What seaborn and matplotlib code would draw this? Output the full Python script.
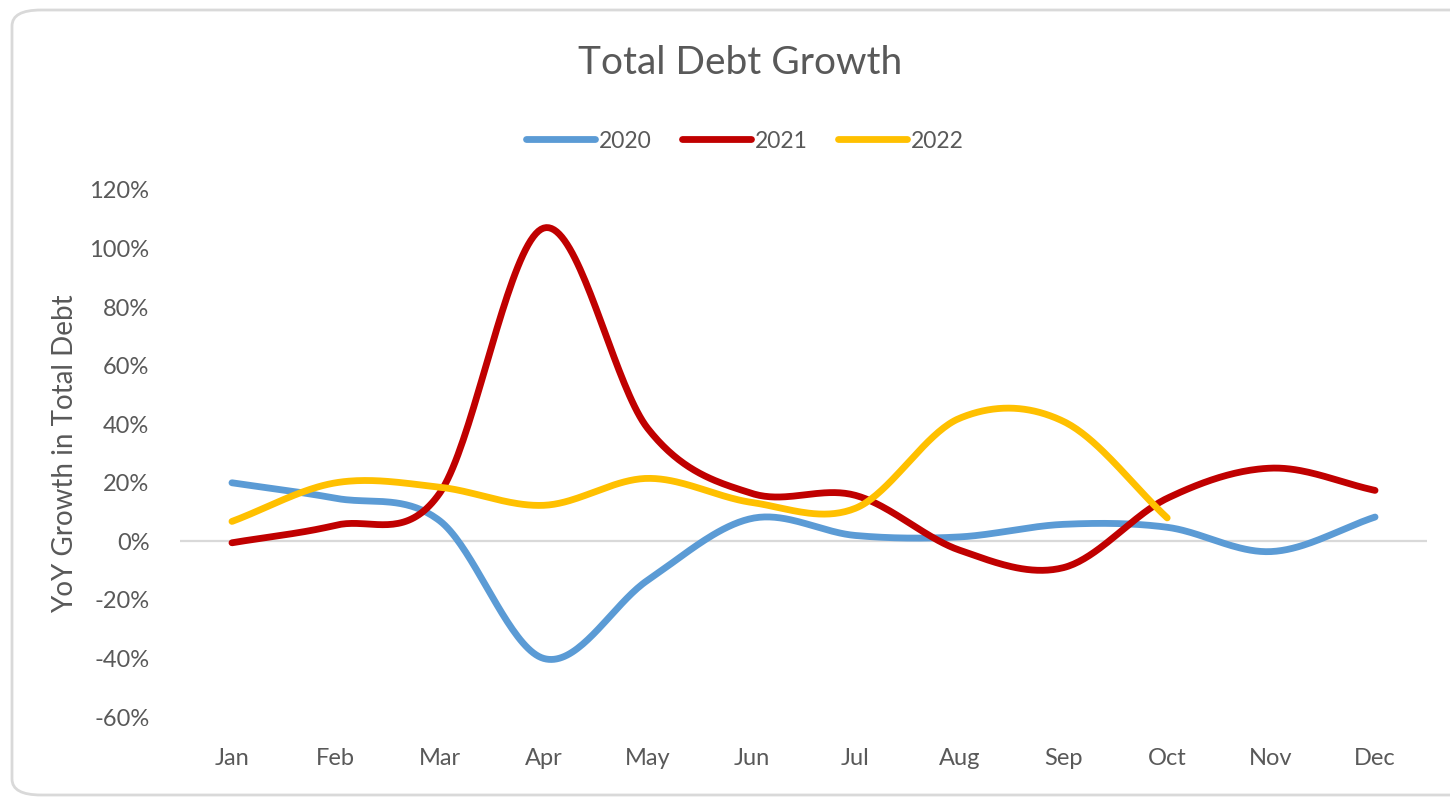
import numpy as np
import pandas as pd
import matplotlib
matplotlib.use("Agg")
import matplotlib.pyplot as plt
import seaborn as sns
from matplotlib.patches import FancyBboxPatch
from matplotlib.ticker import FuncFormatter
from matplotlib.lines import Line2D

# ---- data ----
months = ["Jan", "Feb", "Mar", "Apr", "May", "Jun", "Jul", "Aug", "Sep", "Oct", "Nov", "Dec"]
growth_2020 = [0.20, 0.147, 0.07, -0.40, -0.133, 0.078, 0.02, 0.015, 0.058, 0.048, -0.035, 0.083]
growth_2021 = [-0.005, 0.055, 0.165, 1.07, 0.386, 0.164, 0.157, -0.03, -0.09, 0.147, 0.25, 0.174]
growth_2022 = [0.068, 0.20, 0.185, 0.123, 0.215, 0.133, 0.113, 0.42, 0.41, 0.08]
series_names = ["2020", "2021", "2022"]
yticks = [-0.6, -0.4, -0.2, 0.0, 0.2, 0.4, 0.6, 0.8, 1.0, 1.2]

colors = {"2020": "#5B9BD5", "2021": "#C00000", "2022": "#FFC000"}


def smooth_curve(vals, n=40):
    """Catmull-Rom style rendering of the line (Excel 'smoothed line')."""
    y = np.asarray(vals, dtype=float)
    x = np.arange(len(y), dtype=float)
    m = np.zeros_like(y)
    m[1:-1] = (y[2:] - y[:-2]) / 2.0
    m[0] = (y[1] - y[0])
    m[-1] = (y[-1] - y[-2])
    xs, ys = [], []
    for i in range(len(y) - 1):
        t = np.linspace(0, 1, n, endpoint=(i == len(y) - 2))
        h00 = 2 * t**3 - 3 * t**2 + 1
        h10 = t**3 - 2 * t**2 + t
        h01 = -2 * t**3 + 3 * t**2
        h11 = t**3 - t**2
        xs.append(x[i] + t)
        ys.append(h00 * y[i] + h10 * m[i] + h01 * y[i + 1] + h11 * m[i + 1])
    return np.concatenate(xs), np.concatenate(ys)


frames = []
for name, vals in zip(series_names, [growth_2020, growth_2021, growth_2022]):
    xs, ys = smooth_curve(vals)
    frames.append(pd.DataFrame({"x": xs, "y": ys, "series": name}))
df = pd.concat(frames, ignore_index=True)

sns.set_theme(style="white")
plt.rcParams["font.family"] = ["Lato", "DejaVu Sans"]

W, H = 1450, 799
fig = plt.figure(figsize=(W / 100, H / 100), dpi=100)
fig.patch.set_facecolor("white")

# rounded chart-area border
border = FancyBboxPatch((12 / W, 4 / H), 1.2, (795 - 10) / H,
                        boxstyle="round,pad=0,rounding_size=0.02",
                        transform=fig.transFigure, facecolor="none",
                        edgecolor="#D9D9D9", linewidth=2, zorder=-1)
fig.patches.append(border)

ax = fig.add_axes([180 / W, 1 - 717 / H, (1427 - 180) / W, (717 - 190) / H])
ax.set_facecolor("none")

LW = 4.9
sns.lineplot(data=df, x="x", y="y", hue="series", palette=colors,
             sort=False, estimator=None, linewidth=LW, ax=ax, legend=False)
for line in ax.lines:
    line.set_solid_capstyle("round")
    line.set_solid_joinstyle("round")

ax.axhline(0, color="#D9D9D9", linewidth=1.6, zorder=0.5)

ax.set_xlim(-0.5, 11.5)
ax.set_ylim(-0.6, 1.2)
ax.set_xticks(range(len(months)))
ax.set_xticklabels(months)
ax.set_yticks(yticks)
ax.yaxis.set_major_formatter(FuncFormatter(lambda v, p: f"{v*100:.0f}%"))
ax.tick_params(axis="both", length=0, labelsize=17, colors="#595959")
ax.tick_params(axis="x", pad=22)
ax.tick_params(axis="y", pad=22)
for s in ax.spines.values():
    s.set_visible(False)
ax.grid(False)
ax.set_xlabel("")
ax.set_ylabel("YoY Growth in Total Debt", fontsize=20, color="#595959", labelpad=8)

fig.text(740 / W, 1 - 63 / H, "Total Debt Growth", ha="center", va="center",
         fontsize=28, color="#595959")

handles = [Line2D([0], [0], color=colors[n], lw=LW, solid_capstyle="round") for n in series_names]
fig.legend(handles, series_names, loc="center", bbox_to_anchor=(745 / W, 1 - 141 / H),
           ncol=3, frameon=False, fontsize=16.5, labelcolor="#595959",
           handlelength=3.0, handletextpad=0.2, columnspacing=1.3)

fig.savefig("out.png", dpi=100, facecolor="white")
